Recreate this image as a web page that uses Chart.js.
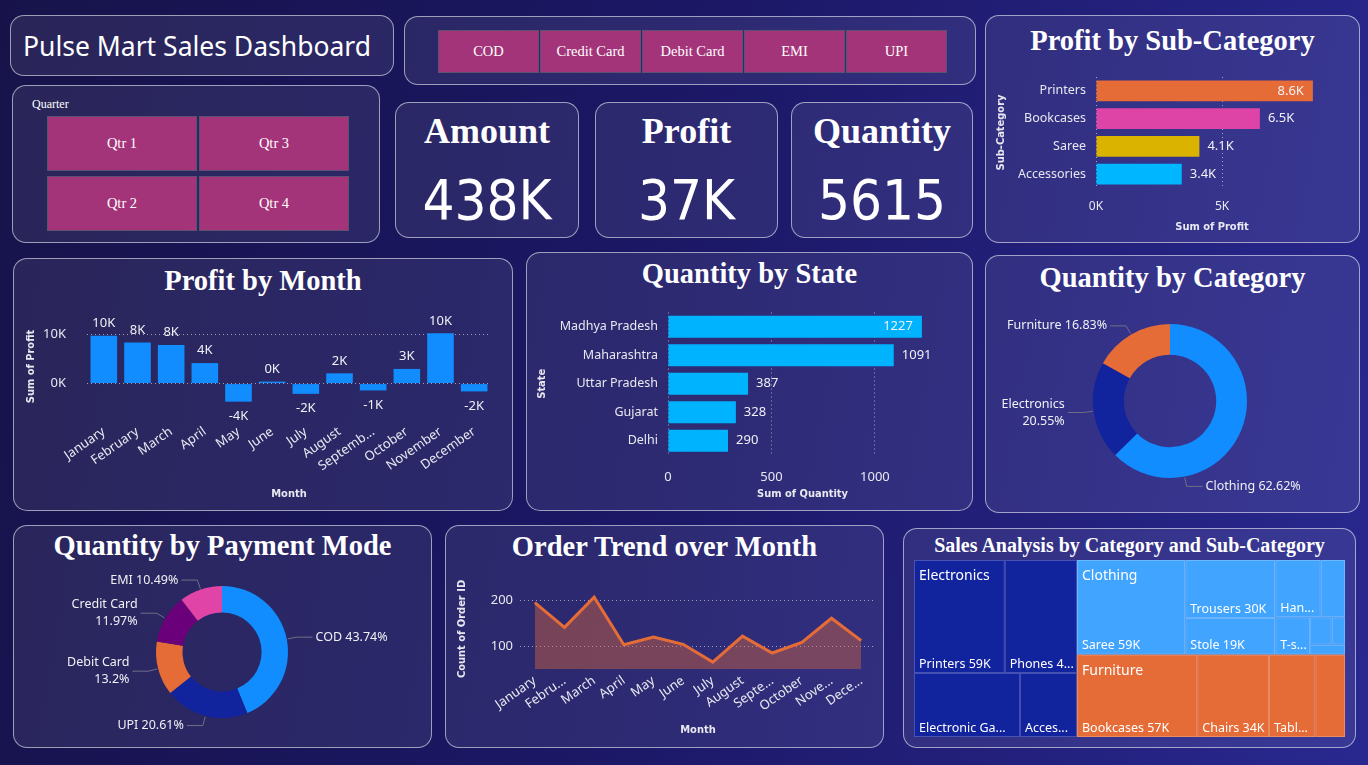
<!DOCTYPE html>
<html>
<head>
<meta charset="utf-8">
<title>Pulse Mart Sales Dashboard</title>
<script src="https://cdn.jsdelivr.net/npm/chart.js@4.4.1/dist/chart.umd.min.js"></script>
<style>
  body {
    margin: 0; width: 1368px; height: 765px; overflow: hidden; position: relative;
    background: linear-gradient(100deg, #17134a 0%, #1b1764 45%, #29288f 100%);
    font-family: 'Segoe UI', 'Noto Sans', sans-serif; color: #fff;
  }
  .panel {
    position: absolute; box-sizing: border-box; border-radius: 14px;
    border: 1px solid rgba(255, 255, 255, 0.55); background: rgba(255, 255, 255, 0.08);
  }
  .title {
    position: absolute; left: 0; right: 0; text-align: center; white-space: nowrap; line-height: 1;
    font-family: 'Liberation Serif', 'Times New Roman', serif; font-weight: bold;
  }
  canvas { position: absolute; }
  .btn {
    position: absolute; box-sizing: border-box; background: #a43479; border: 1px solid #5d5070;
    font-family: 'Liberation Serif', serif; font-size: 14.5px;
    display: flex; align-items: center; justify-content: center;
  }
  .kpi-value {
    position: absolute; left: 0; right: 0; text-align: center; line-height: 1;
    font-family: 'DejaVu Sans Condensed', 'Roboto', sans-serif; font-size: 56px;
  }
</style>
</head>
<body>

<div class="panel" style="left:10px;top:15px;width:384px;height:61px">
  <div style="position:absolute;left:12px;top:17px;font-size:26.5px;line-height:1;white-space:nowrap">Pulse Mart Sales Dashboard</div>
</div>
<div class="panel" id="quarterPanel" style="left:12px;top:85px;width:368px;height:158px">
  <div style="position:absolute;left:19px;top:11px;font-family:'Liberation Serif',serif;font-size:12px">Quarter</div>
</div>
<div class="panel" id="payPanel" style="left:404px;top:16px;width:572px;height:69px"></div>
<div id="kpis"></div>

<div class="panel" style="left:985px;top:15px;width:375px;height:228px"><div class="title" style="top:11px;font-size:28.5px">Profit by Sub-Category</div></div>
<div class="panel" style="left:13px;top:258px;width:500px;height:253px"><div class="title" style="top:8px;font-size:28.5px">Profit by Month</div></div>
<div class="panel" style="left:526px;top:252px;width:447px;height:259px"><div class="title" style="top:7px;font-size:28.5px">Quantity by State</div></div>
<div class="panel" style="left:985px;top:255px;width:375px;height:258px"><div class="title" style="top:8px;font-size:28.5px">Quantity by Category</div></div>
<div class="panel" style="left:13px;top:525px;width:419px;height:223px"><div class="title" style="top:6px;font-size:28.5px">Quantity by Payment Mode</div></div>
<div class="panel" style="left:445px;top:525px;width:439px;height:223px"><div class="title" style="top:7px;font-size:28.5px">Order Trend over Month</div></div>
<div class="panel" style="left:903px;top:528px;width:453px;height:220px"><div class="title" style="top:6px;font-size:20px">Sales Analysis by Category and Sub-Category</div></div>

<canvas id="subCatChart" width="365" height="175" style="left:990px;top:65px"></canvas>
<canvas id="monthChart" width="496" height="208" style="left:15px;top:300px"></canvas>
<canvas id="stateChart" width="440" height="212" style="left:530px;top:295px"></canvas>
<canvas id="categoryChart" width="365" height="205" style="left:990px;top:300px"></canvas>
<canvas id="paymentChart" width="415" height="175" style="left:15px;top:570px"></canvas>
<canvas id="trendChart" width="435" height="176" style="left:447px;top:570px"></canvas>
<canvas id="treemapChart" width="434" height="180" style="left:913px;top:559px"></canvas>

<script>
// slicers and cards
const quarters = ['Qtr 1', 'Qtr 3', 'Qtr 2', 'Qtr 4']
const paymentModes = ['COD', 'Credit Card', 'Debit Card', 'EMI', 'UPI']
const kpiNames = ['Amount', 'Profit', 'Quantity']
const kpiValues = ['438K', '37K', '5615']

// Profit by Sub-Category (thousands)
const subCategories = ['Printers', 'Bookcases', 'Saree', 'Accessories']
const subCategoryProfit = [8.6, 6.5, 4.1, 3.4]

// Profit by Month (thousands)
const monthLabels = ['January', 'February', 'March', 'April', 'May', 'June', 'July', 'August', 'Septemb...', 'October', 'November', 'December']
const profitByMonth = [9.8, 8.4, 7.9, 4.2, -3.7, 0.4, -2.1, 2.1, -1.4, 3.0, 10.3, -1.6]

// Quantity by State
const states = ['Madhya Pradesh', 'Maharashtra', 'Uttar Pradesh', 'Gujarat', 'Delhi']
const quantityByState = [1227, 1091, 387, 328, 290]

// Quantity by Category
const categories = ['Clothing', 'Electronics', 'Furniture']
const quantityByCategory = [3516, 1154, 945]

// Quantity by Payment Mode
const paymentSlices = ['COD', 'UPI', 'Debit Card', 'Credit Card', 'EMI']
const quantityByPayment = [2456, 1157, 741, 672, 589]

// Order Trend over Month
const trendLabels = ['January', 'Febru...', 'March', 'April', 'May', 'June', 'July', 'August', 'Septe...', 'October', 'Nove...', 'Dece...']
const ordersByMonth = [195, 141, 207, 103, 120, 104, 65, 122, 85, 108, 161, 112]

// Sales treemap (thousands)
const treeCategories = ['Electronics', 'Clothing', 'Furniture']
const electronicsSubs = ['Printers', 'Phones', 'Electronic Games', 'Accessories']
const electronicsSales = [59, 47, 39, 21]
const clothingSubs = ['Saree', 'Trousers', 'Stole', 'Hankerchief', 'Shirt', 'T-shirt', 'Kurti', 'Leggings', 'Skirt']
const clothingSales = [59, 30, 19, 15, 8, 7.5, 3.4, 2.1, 2]
const furnitureSubs = ['Bookcases', 'Chairs', 'Tables', 'Furnishings']
const furnitureSales = [57, 34, 22, 14]

const fontFamily = "'Segoe UI', 'Noto Sans', sans-serif"
const dinFamily = "'DejaVu Sans Condensed', 'Roboto', sans-serif"
const blue = '#118DFF', navy = '#12239E', orange = '#E66C37'

Chart.defaults.font.family = fontFamily
Chart.defaults.color = '#e8e8f0'
Chart.defaults.animation = false
Chart.defaults.plugins.legend.display = false
Chart.defaults.plugins.tooltip.enabled = false

// slicer buttons
const qp = document.getElementById('quarterPanel')
quarters.forEach((q, i) => {
    const b = document.createElement('div')
    b.className = 'btn'
    b.textContent = q
    b.style.cssText = `left:${34 + (i % 2) * 152}px;top:${30 + Math.floor(i / 2) * 60}px;width:150px;height:55px`
    qp.appendChild(b)
})
const pp = document.getElementById('payPanel')
paymentModes.forEach((p, i) => {
    const b = document.createElement('div')
    b.className = 'btn'
    b.textContent = p
    b.style.cssText = `left:${33 + i * 102}px;top:13px;width:101px;height:43px`
    pp.appendChild(b)
})
const kpiLeft = [395, 595, 791]
const kpiWidth = [184, 183, 182]
kpiNames.forEach((n, i) => {
    const c = document.createElement('div')
    c.className = 'panel'
    c.style.cssText = `left:${kpiLeft[i]}px;top:102px;width:${kpiWidth[i]}px;height:136px`
    c.innerHTML = `<div class="title" style="top:10px;font-size:36px">${n}</div><div class="kpi-value" style="top:69px">${kpiValues[i]}</div>`
    document.getElementById('kpis').appendChild(c)
})

const axisTitle = (text, padding) => ({
    display: true, text: text, color: '#e8e8f0', padding: padding,
    font: { family: dinFamily, weight: 'bold', size: 11 }
})
const dottedGrid = { color: 'rgba(255,255,255,0.55)', lineWidth: 1, drawTicks: false }
const dottedBorder = { display: false, dash: [1, 3] }
const noGrid = { display: false, drawTicks: false }
// fixed axis sizes, and no extra room for edge labels
const fixWidth = w => s => { s.width = w; s.paddingTop = 0; s.paddingBottom = 0 }
const fixHeight = h => s => { s.height = h; s.paddingLeft = 0; s.paddingRight = 0 }

const valueLabels = {
    id: 'valueLabels',
    afterDatasetsDraw(chart, args, opts) {
        const { ctx, chartArea } = chart
        const values = chart.data.datasets[0].data
        ctx.save()
        ctx.font = opts.font
        ctx.fillStyle = '#f0f0f5'
        chart.getDatasetMeta(0).data.forEach((bar, i) => {
            const text = opts.format(values[i])
            const w = ctx.measureText(text).width
            if (chart.options.indexAxis === 'y') {
                ctx.textBaseline = 'middle'
                if (bar.x + 8 + w > chartArea.right) {
                    ctx.textAlign = 'right'
                    ctx.fillText(text, bar.x - 9, bar.y)
                } else {
                    ctx.textAlign = 'left'
                    ctx.fillText(text, bar.x + 8, bar.y)
                }
            } else {
                ctx.textAlign = 'center'
                if (values[i] >= 0) {
                    ctx.textBaseline = 'bottom'
                    ctx.fillText(text, bar.x, bar.y - 6)
                } else {
                    ctx.textBaseline = 'top'
                    ctx.fillText(text, bar.x, bar.y + 8)
                }
            }
        })
        ctx.restore()
    }
}

const donutLabels = {
    id: 'donutLabels',
    afterDatasetsDraw(chart, args, opts) {
        const { ctx } = chart
        const values = chart.data.datasets[0].data
        const total = values.reduce((a, b) => a + b, 0)
        ctx.save()
        ctx.font = '12.5px ' + fontFamily
        chart.getDatasetMeta(0).data.forEach((arc, i) => {
            const name = chart.data.labels[i]
            const pct = parseFloat((values[i] / total * 100).toFixed(2)) + '%'
            let angle = (arc.startAngle + arc.endAngle) / 2
            if (opts.angles && opts.angles[name] !== undefined) angle = opts.angles[name] * Math.PI / 180 - Math.PI / 2
            const cos = Math.cos(angle), sin = Math.sin(angle)
            const r = arc.outerRadius
            const x0 = arc.x + cos * (r + 1), y0 = arc.y + sin * (r + 1)
            const x1 = arc.x + cos * (r + 10), y1 = arc.y + sin * (r + 10)
            const right = cos >= 0
            const x2 = x1 + (right ? 16 : -16)
            ctx.strokeStyle = '#6f6f86'
            ctx.lineWidth = 1
            ctx.beginPath()
            ctx.moveTo(x0, y0)
            ctx.lineTo(x1, y1)
            ctx.lineTo(x2, y1)
            ctx.stroke()
            const lines = opts.wrap.includes(name) ? [name, pct] : [name + ' ' + pct]
            ctx.fillStyle = '#f0f0f5'
            ctx.textAlign = right ? 'left' : 'right'
            ctx.textBaseline = 'middle'
            const tx = x2 + (right ? 3 : -3)
            lines.forEach((t, k) => ctx.fillText(t, tx, y1 + (k - (lines.length - 1) / 2) * 17))
        })
        ctx.restore()
    }
}

// Profit by Sub-Category
new Chart(document.getElementById('subCatChart'), {
    type: 'bar',
    data: {
        labels: subCategories,
        datasets: [{
            data: subCategoryProfit,
            backgroundColor: [orange, '#DD44A6', '#D9B300', '#00B7FF'],
            barPercentage: 0.75,
            categoryPercentage: 1
        }]
    },
    options: {
        responsive: false,
        indexAxis: 'y',
        layout: { padding: { top: 12, right: 27 } },
        scales: {
            x: {
                min: 0, max: 9.2,
                afterBuildTicks: s => { s.ticks = [{ value: 0 }, { value: 5 }] },
                ticks: { callback: v => v + 'K', padding: 11, font: { size: 12 } },
                grid: dottedGrid, border: dottedBorder,
                title: axisTitle('Sum of Profit', { top: 0, bottom: 6 }),
                afterFit: fixHeight(52)
            },
            y: {
                ticks: { padding: 10, font: { size: 12.5 } },
                grid: noGrid, border: { display: false },
                title: axisTitle('Sub-Category', { top: 5, bottom: 0 }),
                afterFit: fixWidth(106)
            }
        },
        plugins: { valueLabels: { font: '13px ' + fontFamily, format: v => v.toFixed(1) + 'K' } }
    },
    plugins: [valueLabels]
})

// Profit by Month
new Chart(document.getElementById('monthChart'), {
    type: 'bar',
    data: {
        labels: monthLabels,
        datasets: [{ data: profitByMonth, backgroundColor: blue, barPercentage: 0.79, categoryPercentage: 1 }]
    },
    options: {
        responsive: false,
        layout: { padding: { top: 25, right: 20 } },
        scales: {
            x: {
                ticks: { autoSkip: false, maxRotation: 35, minRotation: 35, padding: 16, font: { size: 13 } },
                grid: noGrid, border: { display: false },
                title: axisTitle('Month', { top: 0, bottom: 7 }),
                afterFit: fixHeight(100)
            },
            y: {
                min: -5, max: 12,
                afterBuildTicks: s => { s.ticks = [{ value: 0 }, { value: 10 }] },
                ticks: { callback: v => v + 'K', padding: 21, font: { size: 13 } },
                grid: dottedGrid, border: dottedBorder,
                title: axisTitle('Sum of Profit', { top: 10, bottom: 0 }),
                afterFit: fixWidth(72)
            }
        },
        plugins: { valueLabels: { font: '13px ' + fontFamily, format: v => Math.round(v) + 'K' } }
    },
    plugins: [valueLabels]
})

// Quantity by State
new Chart(document.getElementById('stateChart'), {
    type: 'bar',
    data: {
        labels: states,
        datasets: [{ data: quantityByState, backgroundColor: '#00B3FF', barPercentage: 0.77, categoryPercentage: 1 }]
    },
    options: {
        responsive: false,
        indexAxis: 'y',
        layout: { padding: { top: 17.5, right: 33 } },
        scales: {
            x: {
                min: 0, max: 1300,
                afterBuildTicks: s => { s.ticks = [{ value: 0 }, { value: 500 }, { value: 1000 }] },
                ticks: { callback: v => String(v), padding: 14, font: { size: 13 } },
                grid: dottedGrid, border: dottedBorder,
                title: axisTitle('Sum of Quantity', { top: 0, bottom: 6 }),
                afterFit: fixHeight(52)
            },
            y: {
                ticks: { padding: 10, font: { size: 12.5 } },
                grid: noGrid, border: { display: false },
                title: axisTitle('State', { top: 6, bottom: 0 }),
                afterFit: fixWidth(138)
            }
        },
        plugins: { valueLabels: { font: '13px ' + fontFamily, format: v => String(v) } }
    },
    plugins: [valueLabels]
})

// Quantity by Category
new Chart(document.getElementById('categoryChart'), {
    type: 'doughnut',
    data: {
        labels: categories,
        datasets: [{ data: quantityByCategory, backgroundColor: [blue, navy, orange], borderWidth: 0 }]
    },
    options: {
        responsive: false,
        cutout: '60%',
        layout: { padding: { left: 103, right: 108, top: 24, bottom: 27 } },
        plugins: { donutLabels: { wrap: ['Electronics'], angles: { Clothing: 169 } } }
    },
    plugins: [donutLabels]
})

// Quantity by Payment Mode
new Chart(document.getElementById('paymentChart'), {
    type: 'doughnut',
    data: {
        labels: paymentSlices,
        datasets: [{ data: quantityByPayment, backgroundColor: [blue, navy, orange, '#6B007B', '#E044A7'], borderWidth: 0 }]
    },
    options: {
        responsive: false,
        cutout: '60%',
        layout: { padding: { left: 141, right: 142, top: 16, bottom: 27 } },
        plugins: { donutLabels: { wrap: ['Credit Card', 'Debit Card'] } }
    },
    plugins: [donutLabels]
})

// Order Trend over Month
new Chart(document.getElementById('trendChart'), {
    type: 'line',
    data: {
        labels: trendLabels,
        datasets: [{
            data: ordersByMonth,
            borderColor: orange,
            borderWidth: 3,
            backgroundColor: 'rgba(230,108,55,0.4)',
            fill: 'start',
            tension: 0,
            pointRadius: 0
        }]
    },
    options: {
        responsive: false,
        layout: { padding: { top: 19, right: 6 } },
        scales: {
            x: {
                offset: true,
                ticks: { autoSkip: false, maxRotation: 35, minRotation: 35, padding: 4, font: { size: 13 } },
                grid: noGrid, border: { display: false },
                title: axisTitle('Month', { top: 0, bottom: 9 }),
                afterFit: fixHeight(77)
            },
            y: {
                min: 50, max: 225,
                afterBuildTicks: s => { s.ticks = [{ value: 100 }, { value: 200 }] },
                ticks: { padding: 7, font: { size: 13 } },
                grid: dottedGrid, border: dottedBorder,
                title: axisTitle('Count of Order ID', { top: 9, bottom: 0 }),
                afterFit: fixWidth(73)
            }
        }
    }
})

// Treemap: cells laid out by value along nested splits
const treeGroups = [
    { subs: electronicsSubs, values: electronicsSales, color: navy,
      split: { dir: 'col', items: [{ dir: 'row', items: [0, 1] }, { dir: 'row', items: [2, 3] }] } },
    { subs: clothingSubs, values: clothingSales, color: '#41A4FF',
      split: { dir: 'row', items: [0, { dir: 'col', items: [1, 2] }, { dir: 'col', items: [
          { dir: 'row', items: [3, 4] },
          { dir: 'row', items: [5, { dir: 'col', items: [{ dir: 'row', items: [6, 7] }, 8] }] }] }] } },
    { subs: furnitureSubs, values: furnitureSales, color: orange,
      split: { dir: 'row', items: [0, 1, 2, 3] } }
]
const treeSplit = { dir: 'row', items: [0, { dir: 'col', items: [1, 2] }] }

function nodeValue(node, vals) {
    return typeof node === 'number' ? vals[node] : node.items.reduce((s, n) => s + nodeValue(n, vals), 0)
}
function layoutNode(node, vals, x0, y0, x1, y1, out) {
    if (typeof node === 'number') { out.push({ i: node, x0, y0, x1, y1 }); return }
    const total = nodeValue(node, vals)
    let pos = node.dir === 'row' ? x0 : y0
    node.items.forEach(n => {
        const frac = nodeValue(n, vals) / total
        if (node.dir === 'row') {
            const w = (x1 - x0) * frac
            layoutNode(n, vals, pos, y0, pos + w, y1, out)
            pos += w
        } else {
            const h = (y1 - y0) * frac
            layoutNode(n, vals, x0, pos, x1, pos + h, out)
            pos += h
        }
    })
}
function fitText(ctx, text, avail) {
    if (ctx.measureText(text).width <= avail) return text
    for (let n = text.length - 1; n >= 2; n--) {
        const t = text.slice(0, n) + '...'
        if (ctx.measureText(t).width <= avail) return t
    }
    return ''
}

const treemapPlugin = {
    id: 'treemap',
    afterDatasetsDraw(chart) {
        const { ctx, scales: { x, y } } = chart
        const totals = treeGroups.map(g => g.values.reduce((a, b) => a + b, 0))
        const groupRects = []
        layoutNode(treeSplit, totals, 0, 0, 1, 1, groupRects)
        ctx.save()
        groupRects.forEach(gr => {
            const g = treeGroups[gr.i]
            const cells = []
            layoutNode(g.split, g.values, gr.x0, gr.y0, gr.x1, gr.y1, cells)
            cells.forEach(c => {
                const px0 = x.getPixelForValue(c.x0), px1 = x.getPixelForValue(c.x1)
                const py0 = y.getPixelForValue(c.y0), py1 = y.getPixelForValue(c.y1)
                ctx.fillStyle = g.color
                ctx.fillRect(px0, py0, px1 - px0, py1 - py0)
                ctx.strokeStyle = 'rgba(255,255,255,0.22)'
                ctx.lineWidth = 1
                ctx.strokeRect(px0 + 0.5, py0 + 0.5, px1 - px0 - 1, py1 - py0 - 1)
                if (py1 - py0 < 25) return
                ctx.font = '12.5px ' + fontFamily
                const t = fitText(ctx, g.subs[c.i] + ' ' + Math.round(g.values[c.i]) + 'K', px1 - px0 - 8)
                if (!t) return
                ctx.fillStyle = '#ffffff'
                ctx.textAlign = 'left'
                ctx.textBaseline = 'middle'
                ctx.fillText(t, px0 + 5, py1 - 9)
            })
            ctx.font = '14px ' + fontFamily
            ctx.fillStyle = '#ffffff'
            ctx.textAlign = 'left'
            ctx.textBaseline = 'middle'
            ctx.fillText(treeCategories[gr.i], x.getPixelForValue(gr.x0) + 5, y.getPixelForValue(gr.y0) + 16)
        })
        ctx.restore()
    }
}

new Chart(document.getElementById('treemapChart'), {
    type: 'scatter',
    data: { datasets: [{ data: [] }] },
    options: {
        responsive: false,
        layout: { padding: { left: 1, top: 1, right: 2, bottom: 2 } },
        scales: {
            x: { type: 'linear', min: 0, max: 1, display: false },
            y: { type: 'linear', min: 0, max: 1, reverse: true, display: false }
        }
    },
    plugins: [treemapPlugin]
})
</script>
</body>
</html>
